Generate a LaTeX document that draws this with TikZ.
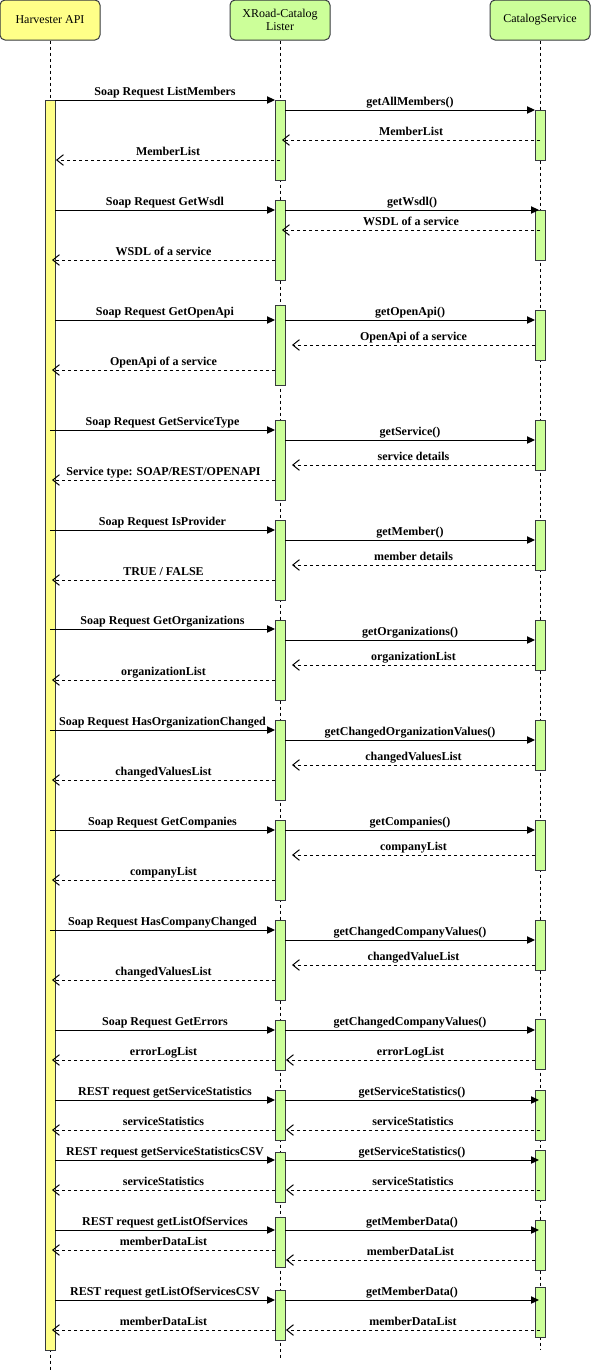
\documentclass[tikz,border=0pt]{standalone}
\usepackage{fontspec}
\setmainfont{Liberation Serif}
\usepackage{tikz}
\usetikzlibrary{arrows.meta}
\usetikzlibrary{calc}
\definecolor{harvYellow}{HTML}{FFFF88}
\definecolor{listGreen}{HTML}{CCFF99}
\definecolor{boxLine}{HTML}{36393D}
\tikzset{
    head/.style={ % Participant boxes on top
    draw=boxLine, line width=0.75pt,
    rounded corners=3.75pt,
    minimum width=75pt, minimum height=30pt,
    align=center, inner sep=0pt,
    font=\fontsize{9}{10.3}\selectfont},
    life/.style={ % Dashed lifelines
    draw, line width=0.75pt, dash pattern=on 2.25pt off 2.25pt},
    actY/.style={ % Activation bar of the Harvester API
    draw=boxLine, line width=0.75pt, fill=harvYellow,
    minimum width=7.5pt, inner sep=0pt, outer sep=0pt},
    actG/.style={ % Activation bars of Lister and CatalogService
    draw=boxLine, line width=0.75pt, fill=listGreen,
    minimum width=7.5pt, inner sep=0pt, outer sep=0pt},
    call/.style={ % Synchronous request
    draw, line width=0.75pt,
    -{Triangle[length=6pt,width=5.5pt]}},
    ret/.style={ % Reply message
    draw, line width=0.75pt, dash pattern=on 2.25pt off 2.25pt,
    -{Straight Barb[length=5pt,width=8pt]}},
    lbl/.style={ % Message label above the arrow
    midway, anchor=base, yshift=3.75pt, inner sep=0pt,
    font=\fontsize{9}{10.3}\selectfont\bfseries}}

\begin{document}
\begin{tikzpicture}[x=0.75pt, y=-0.75pt]
        \useasboundingbox (0,0) rectangle (591,1371);

        % Participants
        \node[head, fill=harvYellow] (harv) at (50,20) {Harvester API};
        \node[head, fill=listGreen] (lister) at (280,20) {XRoad-Catalog\\Lister};
        \node[head, fill=listGreen] (catalog) at (540,20) {CatalogService};

        % Lifelines
        \coordinate (harvEnd) at (50,1371);
        \coordinate (listerEnd) at (280,1358);
        \coordinate (catalogEnd) at (540,1350);
        \draw[life] (harv) -- (harvEnd);
        \draw[life] (lister) -- (listerEnd);
        \draw[life] (catalog) -- (catalogEnd);

        % Activation bars
        \node[actY, minimum height=937.5pt] (hbar) at (50,725) {};
        \foreach \i/\ya/\yb in {1/100/180, 2/200/280, 3/305/385, 4/420/500,
            5/520/600, 6/620/700, 7/720/800, 8/820/900, 9/920/1000,
            10/1020/1070, 11/1090/1140, 12/1152/1202, 13/1217/1267, 14/1290/1340} {
                \node[actG, minimum height={(\yb-\ya)*0.75pt}] (lst\i) at (280,{(\ya+\yb)/2}) {};
            }
        \foreach \i/\ya/\yb in {1/110/160, 2/210/260, 3/310/360, 4/420/470,
            5/520/570, 6/620/670, 7/720/770, 8/820/870, 9/920/970,
            10/1019/1069, 11/1090/1140, 12/1150/1200, 13/1220/1270, 14/1287/1337} {
                \node[actG, minimum height={(\yb-\ya)*0.75pt}] (cat\i) at (540,{(\ya+\yb)/2}) {};
            }

        % Messages: y / from / to / shift of the tip / style / label
        \foreach \y/\src/\dst/\dx/\sty/\txt in {
            100/hbar.east/lst1.west/0/call/{Soap Request ListMembers},
            110/lst1.east/cat1.west/0/call/{getAllMembers()},
            140/cat1.center/lst1.center/2/ret/{MemberList},
            160/lst1.center/hbar.east/1/ret/{MemberList},
            210/hbar.east/lst2.west/0/call/{Soap Request GetWsdl},
            210/lst2.east/cat2.center/-1/call/{getWsdl()},
            230/cat2.center/lst2.center/2/ret/{WSDL of a service},
            260/lst2.west/hbar.east/-3/ret/{WSDL of a service},
            320/hbar.east/lst3.west/0/call/{Soap Request GetOpenApi},
            320/lst3.east/cat3.west/0/call/{getOpenApi()},
            345/cat3.west/lst3.east/7/ret/{OpenApi of a service},
            370/lst3.west/hbar.east/-3/ret/{OpenApi of a service},
            430/hbar.center/lst4.west/0/call/{Soap Request GetServiceType},
            440/lst4.east/cat4.west/0/call/{getService()},
            465/cat4.west/lst4.east/7/ret/{service details},
            480/lst4.west/hbar.east/-3/ret/{Service type: SOAP/REST/OPENAPI},
            530/hbar.center/lst5.west/0/call/{Soap Request IsProvider},
            540/lst5.east/cat5.west/0/call/{getMember()},
            565/cat5.west/lst5.east/7/ret/{member details},
            580/lst5.west/hbar.east/-3/ret/{TRUE / FALSE},
            629/hbar.center/lst6.west/0/call/{Soap Request GetOrganizations},
            640/lst6.east/cat6.west/0/call/{getOrganizations()},
            665/cat6.west/lst6.east/7/ret/{organizationList},
            680/lst6.west/hbar.east/-3/ret/{organizationList},
            730/hbar.center/lst7.west/0/call/{Soap Request HasOrganizationChanged},
            740/lst7.east/cat7.west/0/call/{getChangedOrganizationValues()},
            765/cat7.west/lst7.east/7/ret/{changedValuesList},
            780/lst7.west/hbar.east/-3/ret/{changedValuesList},
            830/hbar.center/lst8.west/0/call/{Soap Request GetCompanies},
            830/lst8.east/cat8.west/0/call/{getCompanies()},
            855/cat8.west/lst8.east/7/ret/{companyList},
            880/lst8.west/hbar.east/-3/ret/{companyList},
            930/hbar.center/lst9.west/0/call/{Soap Request HasCompanyChanged},
            940/lst9.east/cat9.west/0/call/{getChangedCompanyValues()},
            965/cat9.west/lst9.east/7/ret/{changedValueList},
            980/lst9.west/hbar.east/-3/ret/{changedValuesList},
            1030/hbar.east/lst10.west/0/call/{Soap Request GetErrors},
            1030/lst10.east/cat10.west/0/call/{getChangedCompanyValues()},
            1060/cat10.west/lst10.east/1/ret/{errorLogList},
            1060/lst10.west/hbar.east/-3/ret/{errorLogList},
            1100/hbar.east/lst11.west/0/call/{REST request getServiceStatistics},
            1100/lst11.east/cat11.center/-1/call/{getServiceStatistics()},
            1130/cat11.center/lst11.east/1/ret/{serviceStatistics},
            1130/lst11.west/hbar.east/-3/ret/{serviceStatistics},
            1160/hbar.east/lst12.west/0/call/{REST request getServiceStatisticsCSV},
            1160/lst12.east/cat12.center/-1/call/{getServiceStatistics()},
            1190/cat12.center/lst12.east/1/ret/{serviceStatistics},
            1190/lst12.west/hbar.east/-3/ret/{serviceStatistics},
            1230/hbar.east/lst13.west/0/call/{REST request getListOfServices},
            1230/lst13.east/cat13.center/-1/call/{getMemberData()},
            1250/lst13.west/hbar.east/-3/ret/{memberDataList},
            1260/cat13.west/lst13.east/1/ret/{memberDataList},
            1300/hbar.east/lst14.west/0/call/{REST request getListOfServicesCSV},
            1300/lst14.east/cat14.center/-1/call/{getMemberData()},
            1330/cat14.center/lst14.east/1/ret/{memberDataList},
            1330/lst14.west/hbar.east/-3/ret/{memberDataList}} {
                \draw[\sty] (\src |- 0,\y) -- ($(\dst |- 0,\y)+(\dx,0)$) node[lbl] {\txt};
            }

    \end{tikzpicture}
\end{document}
